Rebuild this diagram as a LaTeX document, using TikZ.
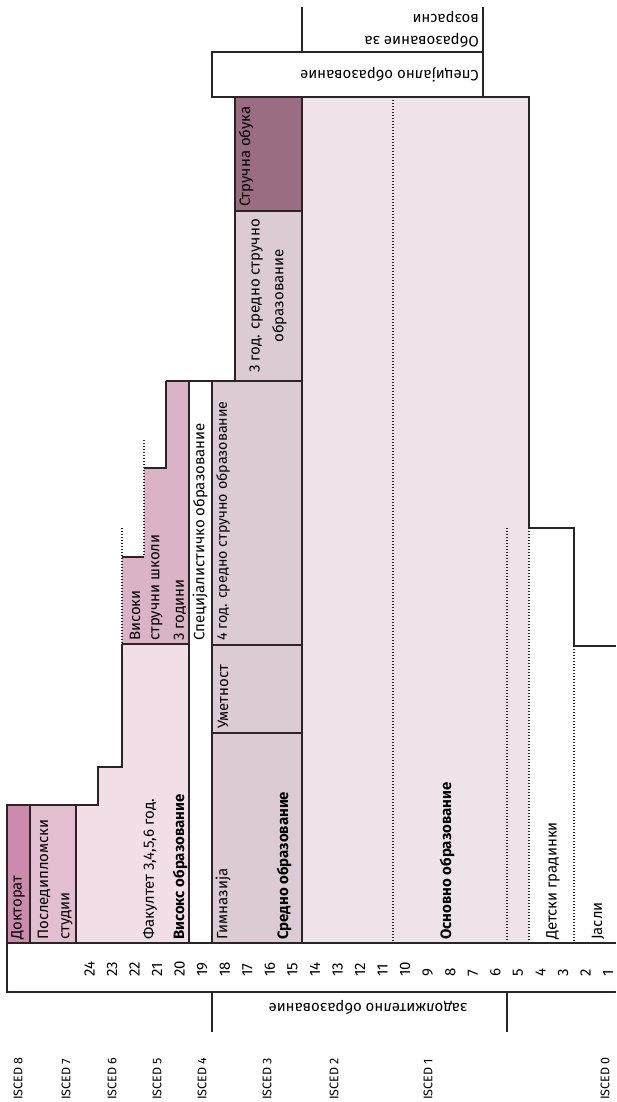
\documentclass[tikz,border=0pt]{standalone}
\usepackage{fontspec}
\setmainfont{Fira Sans}
\usetikzlibrary{positioning}
\definecolor{linec}{HTML}{2B2426}
\definecolor{osnovno}{HTML}{EDE3E9}
\definecolor{sredno}{HTML}{DCCBD4}
\definecolor{obuka}{HTML}{9B6D83}
\definecolor{visoki}{HTML}{DBB3C7}
\definecolor{fakultet}{HTML}{F1DEE7}
\definecolor{postdipl}{HTML}{E3BED1}
\definecolor{doktorat}{HTML}{CC8AAD}
\tikzstyle{lbl} = [rotate=90, anchor=west, inner sep=0pt, font=\fontsize{15}{17}\selectfont]
\tikzstyle{blbl} = [lbl, font=\fontsize{15}{17}\selectfont\bfseries]
\tikzstyle{num} = [lbl]
\tikzstyle{isced} = [lbl, font=\fontsize{12.5}{14}\selectfont]
\tikzstyle{flip} = [rotate=180, anchor=west, inner sep=0pt, font=\fontsize{15}{17}\selectfont]
\tikzstyle{solidline} = [draw=linec, line width=1.8pt]
\tikzstyle{dotline} = [draw=linec, line width=1.4pt, dash pattern=on 1.4pt off 1.6pt]

\begin{document}
\begin{tikzpicture}[x=1pt,y=-1pt]
	\useasboundingbox (0,0) rectangle (616,1102);

	% fills
	\fill[osnovno] (302,97) rectangle (529,943);
	\fill[sredno] (212,381) rectangle (302,943);
	\fill[sredno] (235,211) rectangle (302,381);
	\fill[obuka] (235,97) rectangle (302,211);
	\fill[visoki] (122,557) -- (144,557) -- (144,468) -- (166,468) -- (166,381) -- (189,381) -- (189,644) -- (122,644) -- cycle;
	\fill[fakultet] (76,805) -- (98,805) -- (98,767) -- (122,767) -- (122,644) -- (189,644) -- (189,943) -- (76,943) -- cycle;
	\fill[postdipl] (30,805) rectangle (76,943);
	\fill[doktorat] (7,805) rectangle (30,943);

	% outlines
	\draw[solidline] (302,7) -- (302,52);
	\draw[solidline] (483,7) -- (483,52);
	\draw[solidline] (212,52) rectangle (483,97);
	\draw[solidline] (302,97) -- (529,97) -- (529,528) -- (574,528) -- (574,646) -- (616,646);
	\draw[solidline] (235,97) rectangle (302,381);
	\draw[solidline] (235,211) -- (302,211);
	\draw[solidline] (302,97) -- (302,943);
	\draw[solidline] (166,381) -- (302,381);
	\draw[solidline] (189,381) -- (189,943);
	\draw[solidline] (212,381) -- (212,943);
	\draw[solidline] (212,645) -- (302,645);
	\draw[solidline] (212,733) -- (302,733);
	\draw[solidline] (166,381) -- (166,468) -- (144,468);
	\draw[solidline] (144,557) -- (122,557);
	\draw[solidline] (122,644) -- (189,644);
	\draw[solidline] (122,644) -- (122,767) -- (98,767) -- (98,805) -- (7,805) -- (7,992) -- (616,992);
	\draw[solidline] (7,943) -- (616,943);
	\draw[solidline] (30,805) -- (30,943);
	\draw[solidline] (76,805) -- (76,943);
	\draw[solidline] (212,992) -- (212,1032);
	\draw[solidline] (507,992) -- (507,1032);

	% dotted
	\draw[dotline] (393,97) -- (393,943);
	\draw[dotline] (507,528) -- (507,943);
	\draw[dotline] (529,528) -- (529,943);
	\draw[dotline] (574,646) -- (574,943);
	\draw[dotline] (144,440) -- (144,557);
	\draw[dotline] (122,528) -- (122,644);

	% labels
	\node[lbl] (doktor) at (18,940) {Докторат};
	\node[lbl] (postdip) at (44,940) {Последипломски};
	\node[lbl] (studii) at (67,940) {студии};
	\node[lbl] (fakult) at (150,940) {Факултет 3,4,5,6 год.};
	\node[blbl] (visoko) at (180,940) {Високс образование};
	\node[lbl] (visokiA) at (135,641) {Високи};
	\node[lbl] (visokiB) at (157,641) {стручни школи};
	\node[lbl] (visokiC) at (180,641) {3 години};
	\node[lbl] (specijal) at (200,641) {Специјалистичко образование};
	\node[lbl, font=\fontsize{14.3}{16}\selectfont] (cetiri) at (223,641) {4 год. средно стручно образование};
	\node[lbl] (umetnost) at (223,729) {Уметност};
	\node[lbl] (gimnazija) at (223,940) {Гимназија};
	\node[blbl] (sredobr) at (284,940) {Средно образование};
	\node[lbl] (obuka) at (246,207) {Стручна обука};
	\node[lbl, anchor=center, align=center, font=\fontsize{15}{24}\selectfont] (tri) at (268,296) {3 год. средно стручно\\образование};
	\node[blbl] (osnobr) at (447,940) {Основно образование};
	\node[lbl] (gradinki) at (553,940) {Детски градинки};
	\node[lbl] (jasli) at (598,940) {Јасли};

	\node[flip] (specobr) at (479,75) {Специјално образование};
	\node[flip] (vozrA) at (479,41) {Образование за};
	\node[flip] (vozrB) at (479,17) {возрасни};
	\node[flip, anchor=center] (zadolz) at (368,1008) {задолжително образование};

	% ages and levels
	\foreach \a in {1,...,24}
		\node[num] (age\a) at ({89.5+(24-\a)*22.55},977) {\a};
	\foreach \lev/\px in {8/18,7/66,6/112,5/157,4/202,3/267,2/334,1/428,0/605}
		\node[isced] (isced\lev) at (\px,1100) {ISCED \lev};
\end{tikzpicture}
\end{document}
